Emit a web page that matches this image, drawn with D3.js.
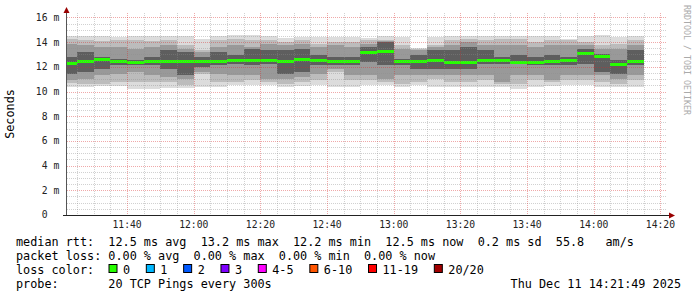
<!DOCTYPE html>
<html>
<head>
<meta charset="utf-8">
<script src="https://cdn.jsdelivr.net/npm/d3@7"></script>
<style>
body { margin: 0; background: #fff; }
text { font-family: "DejaVu Sans Mono", monospace; white-space: pre; }
</style>
</head>
<body>
<script>
var W = 697, H = 297;

// end time of each 5 minute step
var barEnd = ["11:25","11:30","11:35","11:40","11:45","11:50","11:55",
              "12:00","12:05","12:10","12:15","12:20","12:25","12:30","12:35","12:40","12:45","12:50","12:55",
              "13:00","13:05","13:10","13:15","13:20","13:25","13:30","13:35","13:40","13:45","13:50","13:55",
              "14:00","14:05","14:10","14:15"];

// median rtt (ms)
var median = [12.28, 12.39, 12.63, 12.44, 12.33, 12.41, 12.41, 12.41, 12.41, 12.41, 12.47, 12.55,
              12.52, 12.39, 12.63, 12.47, 12.39, 12.39, 13.12, 13.20, 12.39, 12.39, 12.47, 12.33,
              12.33, 12.52, 12.47, 12.36, 12.33, 12.44, 12.52, 13.06, 12.87, 12.20, 12.44];

// lost pings per step (all zero here)
var lost = [0,0,0,0,0,0,0,0,0,0,0,0,0,0,0,0,0,0,0,0,0,0,0,0,0,0,0,0,0,0,0,0,0,0,0];

// smoke: sorted ping spread, outer band to inner band (ms)
var smokeHi1 = [14.49,14.49,14.49,14.41,14.49,14.49,14.49,14.49,14.27,14.49,14.54,14.54,14.49,14.32,14.41,14.41,14.41,14.41,
                14.32,14.49,14.41,13.54,14.41,14.49,14.49,14.49,14.49,14.49,14.49,14.49,14.27,14.49,14.54,14.41,14.49];
var smokeHi2 = [14.22,14.14,14.05,14.14,14.14,14.05,14.14,13.73,13.33,14.14,14.27,14.14,14.14,14.00,14.14,13.87,14.00,14.00,
                14.14,14.14,13.73,13.46,13.73,14.14,14.27,14.14,14.27,14.27,14.00,14.14,14.14,14.00,13.73,13.87,14.14];
var smokeHi3 = [13.87,13.73,13.60,13.60,13.46,13.60,13.73,13.46,13.19,13.60,13.73,13.60,13.87,13.73,13.87,13.60,13.73,13.60,
                13.87,14.05,13.46,13.33,13.60,13.73,14.00,13.73,13.73,13.73,13.60,13.73,13.73,13.73,13.46,13.46,13.73];
var smokeHi4 = [12.79,13.19,12.79,12.65,12.52,12.79,13.33,13.19,12.79,13.19,12.92,13.46,13.33,13.33,13.46,12.92,12.79,12.79,
                13.60,14.00,12.65,12.92,13.33,13.33,13.60,13.33,12.79,12.92,12.79,12.92,12.79,13.46,13.06,12.52,13.33];
var smokeLo4 = [11.44,11.57,11.84,12.11,12.16,12.11,11.84,11.30,11.98,12.11,12.25,12.11,12.25,11.44,11.57,12.11,12.11,12.11,
                12.38,12.11,12.11,11.84,11.84,11.84,11.84,12.25,12.25,12.25,12.11,12.11,12.11,12.25,11.57,11.44,12.11];
var smokeLo3 = [10.90,11.03,11.30,11.44,11.57,11.30,11.17,11.03,11.57,11.44,11.30,11.30,11.03,11.03,11.17,11.44,11.84,11.30,
                11.30,11.03,11.30,11.30,11.30,11.30,11.30,11.30,10.76,11.30,11.30,10.90,11.30,11.30,11.30,11.03,11.30];
var smokeLo2 = [10.71,10.63,10.63,10.76,10.76,10.76,10.76,10.49,11.44,10.76,10.76,10.90,10.76,10.63,10.76,10.90,11.57,10.90,
                10.90,10.76,10.63,10.76,11.03,10.76,10.76,10.90,10.63,10.63,10.90,10.76,10.90,10.90,10.76,10.63,10.90];
var smokeLo1 = [10.36,10.36,10.44,10.44,10.22,10.22,10.27,10.27,10.36,10.36,10.49,10.49,10.49,10.36,10.44,10.49,10.36,10.36,
                10.49,10.49,10.36,10.49,10.36,10.36,10.36,10.36,10.36,10.22,10.36,10.44,10.49,10.49,10.36,10.36,10.36];

var yTicks = [0, 2, 4, 6, 8, 10, 12, 14, 16];
var lossLabels = ["0", "1", "2", "3", "4-5", "6-10", "11-19", "20/20"];
var lossColors = ["#26ff00", "#00b8ff", "#0059ff", "#7e00ff", "#ff00ff", "#ff5500", "#ff0000", "#a10000"];

var legendLines = [
  "median rtt:  12.5 ms avg  13.2 ms max  12.2 ms min  12.5 ms now  0.2 ms sd  55.8   am/s",
  "packet loss: 0.00 % avg  0.00 % max  0.00 % min  0.00 % now",
  "loss color:",
  "probe:       20 TCP Pings every 300s"
];
var stamp = "Thu Dec 11 14:21:49 2025";

var parse = d3.timeParse("%Y-%m-%d %H:%M:%S");
var tEnd = parse("2025-12-11 14:21:49"),
    tStart = parse("2025-12-11 11:21:49");
var step = 5 * 60 * 1000;
var ends = barEnd.map(function(s) { return parse("2025-12-11 " + s + ":00"); });

var x = d3.scaleTime().domain([tStart, tEnd]).range([66.5, 666.5]);
var y = d3.scaleLinear().domain([0, 16]).range([215, 17.4]);
var plotTop = 13;

var svg = d3.select("body").append("svg")
    .attr("width", W)
    .attr("height", H);

svg.append("rect").attr("width", W).attr("height", H).attr("fill", "#fff");

svg.append("clipPath").attr("id", "plot")
   .append("rect")
   .attr("x", 67).attr("y", plotTop)
   .attr("width", 600).attr("height", 215 - plotTop);

var plot = svg.append("g").attr("clip-path", "url(#plot)");

// smoke, outer band first
var bands = [
  {hi: smokeHi1, lo: smokeLo1, color: "#dcdcdc"},
  {hi: smokeHi2, lo: smokeLo2, color: "#bcbcbc"},
  {hi: smokeHi3, lo: smokeLo3, color: "#999999"},
  {hi: smokeHi4, lo: smokeLo4, color: "#5e5e5e"}
];

bands.forEach(function(b) {
  plot.append("g").selectAll("rect")
      .data(ends)
      .enter()
      .append("rect")
      .attr("x", function(d) { return x(new Date(d - step)); })
      .attr("width", function(d) { return x(d) - x(new Date(d - step)); })
      .attr("y", function(d, i) { return y(b.hi[i]); })
      .attr("height", function(d, i) { return y(b.lo[i]) - y(b.hi[i]); })
      .attr("fill", b.color)
      .attr("shape-rendering", "crispEdges");
});

function lossIndex(n) {
  if (n <= 3) return n;
  if (n <= 5) return 4;
  if (n <= 10) return 5;
  if (n <= 19) return 6;
  return 7;
}

// median band
plot.append("g").selectAll("rect")
    .data(ends)
    .enter()
    .append("rect")
    .attr("x", function(d) { return x(new Date(d - step)); })
    .attr("width", function(d) { return x(d) - x(new Date(d - step)); })
    .attr("y", function(d, i) { return y(median[i]) - 1.5; })
    .attr("height", 3)
    .attr("fill", function(d, i) { return lossColors[lossIndex(lost[i])]; })
    .attr("shape-rendering", "crispEdges");

// grid on top
var grid = svg.append("g").attr("shape-rendering", "crispEdges");

var minorY = d3.range(0.5, 16.01, 0.5).filter(function(v) { return v % 2 !== 0; });
grid.selectAll(".hmin").data(minorY).enter().append("line")
    .attr("x1", 67).attr("x2", 667)
    .attr("y1", function(d) { return Math.round(y(d)) + 0.5; })
    .attr("y2", function(d) { return Math.round(y(d)) + 0.5; })
    .attr("stroke", "rgba(140,140,140,0.4)")
    .attr("stroke-dasharray", "1,1");

var minorX = d3.timeMinute.every(5).range(tStart, tEnd).filter(function(d) { return d.getMinutes() % 20 !== 0; });
grid.selectAll(".vmin").data(minorX).enter().append("line")
    .attr("y1", plotTop).attr("y2", 215)
    .attr("x1", function(d) { return Math.round(x(d)) + 0.5; })
    .attr("x2", function(d) { return Math.round(x(d)) + 0.5; })
    .attr("stroke", "rgba(140,140,140,0.4)")
    .attr("stroke-dasharray", "1,1");

grid.selectAll(".hmaj").data(yTicks.slice(1)).enter().append("line")
    .attr("x1", 67).attr("x2", 667)
    .attr("y1", function(d) { return Math.round(y(d)) + 0.5; })
    .attr("y2", function(d) { return Math.round(y(d)) + 0.5; })
    .attr("stroke", "rgba(215,40,40,0.4)")
    .attr("stroke-dasharray", "1,1");

var majorX = d3.timeMinute.every(20).range(tStart, tEnd);
grid.selectAll(".vmaj").data(majorX).enter().append("line")
    .attr("y1", plotTop).attr("y2", 215)
    .attr("x1", function(d) { return Math.round(x(d)) + 0.5; })
    .attr("x2", function(d) { return Math.round(x(d)) + 0.5; })
    .attr("stroke", "rgba(215,40,40,0.4)")
    .attr("stroke-dasharray", "1,1");

// axes
svg.append("line")
   .attr("x1", 66.5).attr("x2", 66.5).attr("y1", 215).attr("y2", 9)
   .attr("stroke", "#555").attr("shape-rendering", "crispEdges");
svg.append("line")
   .attr("x1", 63).attr("x2", 671).attr("y1", 215.5).attr("y2", 215.5)
   .attr("stroke", "#222").attr("shape-rendering", "crispEdges");
svg.append("path")
   .attr("d", "M63.5,13 L66.5,7 L69.5,13 Z")
   .attr("fill", "#900");
svg.append("path")
   .attr("d", "M669,212.5 L675,215.5 L669,218.5 Z")
   .attr("fill", "#900");

// y tick labels
var yl = svg.append("g").attr("font-size", "9.7px").attr("fill", "#222");
yl.selectAll(".num").data(yTicks).enter().append("text")
  .attr("x", 47.5)
  .attr("y", function(d) { return y(d) + 3.4; })
  .attr("text-anchor", "end")
  .text(function(d) { return d; });
yl.selectAll(".unit").data(yTicks.filter(function(d) { return d > 0; })).enter().append("text")
  .attr("x", 53.5)
  .attr("y", function(d) { return y(d) + 3.4; })
  .text("m");

// x tick labels
var fmt = d3.timeFormat("%H:%M");
svg.append("g").attr("font-size", "9.7px").attr("fill", "#222")
   .selectAll("text").data(majorX).enter().append("text")
   .attr("x", function(d) { return x(d); })
   .attr("y", 227.5)
   .attr("text-anchor", "middle")
   .text(function(d) { return fmt(d); });

// vertical label
svg.append("text")
   .attr("transform", "translate(14,114) rotate(-90)")
   .attr("text-anchor", "middle")
   .attr("font-size", "11.8px")
   .attr("fill", "#000")
   .text("Seconds");

// watermark
svg.append("text")
   .attr("transform", "translate(684,5) rotate(90)")
   .attr("font-size", "8.3px")
   .attr("fill", "#aaa")
   .text("RRDTOOL / TOBI OETIKER");

// legend
var lg = svg.append("g").attr("font-size", "11.8px").attr("fill", "#000");
lg.selectAll("text.line").data(legendLines).enter().append("text")
  .attr("x", 16)
  .attr("y", function(d, i) { return 245.5 + i * 14; })
  .text(function(d) { return d; });

lg.append("text")
  .attr("x", 681).attr("y", 287.5)
  .attr("text-anchor", "end")
  .text(stamp);

var cw = 7.12, bx = 108.5;
lossLabels.forEach(function(lab, i) {
  lg.append("rect")
    .attr("x", bx + 0.5).attr("y", 264.5)
    .attr("width", 8).attr("height", 8)
    .attr("fill", lossColors[i])
    .attr("stroke", "#000");
  lg.append("text")
    .attr("x", bx + 14.5).attr("y", 273.5)
    .text(lab);
  bx = bx + 30.2 + lab.length * cw;
});
</script>
</body>
</html>
